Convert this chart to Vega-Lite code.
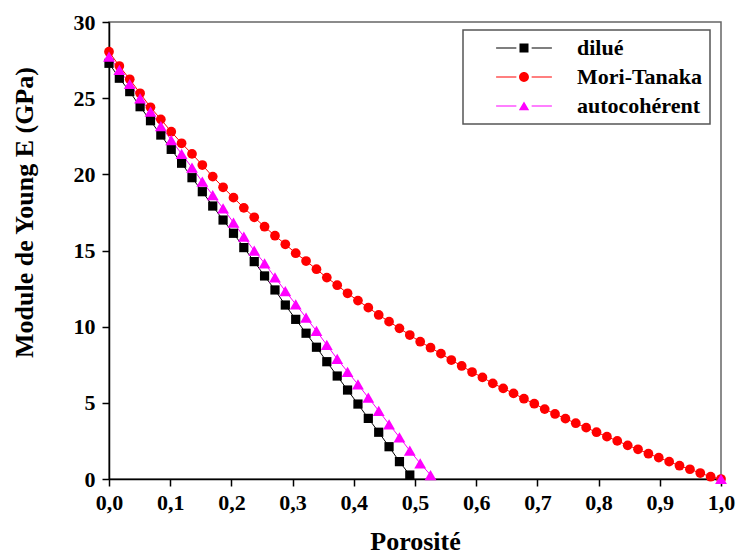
{
  "$schema": "https://vega.github.io/schema/vega-lite/v6.json",
  "width": 612,
  "height": 457,
  "autosize": {"type": "none"},
  "padding": {"left": 109, "top": 22, "right": 16, "bottom": 76},
  "background": "white",
  "data": {"values": [
    {"series":"dilué","p":0,"E":27.29},{"series":"dilué","p":0.0169,"E":26.31},{"series":"dilué","p":0.0339,"E":25.43},{"series":"dilué","p":0.0508,"E":24.44},{"series":"dilué","p":0.0678,"E":23.52},{"series":"dilué","p":0.0847,"E":22.58},{"series":"dilué","p":0.1017,"E":21.64},{"series":"dilué","p":0.1186,"E":20.73},{"series":"dilué","p":0.1356,"E":19.78},{"series":"dilué","p":0.1525,"E":18.86},{"series":"dilué","p":0.1695,"E":17.92},{"series":"dilué","p":0.1864,"E":17.0},{"series":"dilué","p":0.2034,"E":16.13},{"series":"dilué","p":0.2203,"E":15.19},{"series":"dilué","p":0.2373,"E":14.27},{"series":"dilué","p":0.2542,"E":13.33},{"series":"dilué","p":0.2712,"E":12.41},{"series":"dilué","p":0.2881,"E":11.42},{"series":"dilué","p":0.3051,"E":10.48},{"series":"dilué","p":0.322,"E":9.57},{"series":"dilué","p":0.339,"E":8.65},{"series":"dilué","p":0.3559,"E":7.7},{"series":"dilué","p":0.3729,"E":6.76},{"series":"dilué","p":0.3898,"E":5.84},{"series":"dilué","p":0.4068,"E":4.92},{"series":"dilué","p":0.4237,"E":3.98},{"series":"dilué","p":0.4407,"E":3.07},{"series":"dilué","p":0.4576,"E":2.12},{"series":"dilué","p":0.4746,"E":1.14},{"series":"dilué","p":0.4915,"E":0.26},
    {"series":"Mori-Tanaka","p":0,"E":28.05},{"series":"Mori-Tanaka","p":0.0169,"E":27.11},{"series":"Mori-Tanaka","p":0.0339,"E":26.24},{"series":"Mori-Tanaka","p":0.0508,"E":25.32},{"series":"Mori-Tanaka","p":0.0678,"E":24.4},{"series":"Mori-Tanaka","p":0.0847,"E":23.61},{"series":"Mori-Tanaka","p":0.1017,"E":22.8},{"series":"Mori-Tanaka","p":0.1186,"E":22.04},{"series":"Mori-Tanaka","p":0.1356,"E":21.34},{"series":"Mori-Tanaka","p":0.1525,"E":20.61},{"series":"Mori-Tanaka","p":0.1695,"E":19.85},{"series":"Mori-Tanaka","p":0.1864,"E":19.15},{"series":"Mori-Tanaka","p":0.2034,"E":18.47},{"series":"Mori-Tanaka","p":0.2203,"E":17.8},{"series":"Mori-Tanaka","p":0.2373,"E":17.18},{"series":"Mori-Tanaka","p":0.2542,"E":16.56},{"series":"Mori-Tanaka","p":0.2712,"E":15.97},{"series":"Mori-Tanaka","p":0.2881,"E":15.41},{"series":"Mori-Tanaka","p":0.3051,"E":14.82},{"series":"Mori-Tanaka","p":0.322,"E":14.31},{"series":"Mori-Tanaka","p":0.339,"E":13.77},{"series":"Mori-Tanaka","p":0.3559,"E":13.22},{"series":"Mori-Tanaka","p":0.3729,"E":12.72},{"series":"Mori-Tanaka","p":0.3898,"E":12.19},{"series":"Mori-Tanaka","p":0.4068,"E":11.71},{"series":"Mori-Tanaka","p":0.4237,"E":11.25},{"series":"Mori-Tanaka","p":0.4407,"E":10.77},{"series":"Mori-Tanaka","p":0.4576,"E":10.33},{"series":"Mori-Tanaka","p":0.4746,"E":9.89},{"series":"Mori-Tanaka","p":0.4915,"E":9.45},{"series":"Mori-Tanaka","p":0.5085,"E":9.01},{"series":"Mori-Tanaka","p":0.5254,"E":8.62},{"series":"Mori-Tanaka","p":0.5424,"E":8.23},{"series":"Mori-Tanaka","p":0.5593,"E":7.81},{"series":"Mori-Tanaka","p":0.5763,"E":7.42},{"series":"Mori-Tanaka","p":0.5932,"E":7.02},{"series":"Mori-Tanaka","p":0.6102,"E":6.67},{"series":"Mori-Tanaka","p":0.6271,"E":6.28},{"series":"Mori-Tanaka","p":0.6441,"E":5.95},{"series":"Mori-Tanaka","p":0.661,"E":5.62},{"series":"Mori-Tanaka","p":0.678,"E":5.27},{"series":"Mori-Tanaka","p":0.6949,"E":4.94},{"series":"Mori-Tanaka","p":0.7119,"E":4.59},{"series":"Mori-Tanaka","p":0.7288,"E":4.27},{"series":"Mori-Tanaka","p":0.7458,"E":3.96},{"series":"Mori-Tanaka","p":0.7627,"E":3.66},{"series":"Mori-Tanaka","p":0.7797,"E":3.37},{"series":"Mori-Tanaka","p":0.7966,"E":3.07},{"series":"Mori-Tanaka","p":0.8136,"E":2.78},{"series":"Mori-Tanaka","p":0.8305,"E":2.5},{"series":"Mori-Tanaka","p":0.8475,"E":2.21},{"series":"Mori-Tanaka","p":0.8644,"E":1.95},{"series":"Mori-Tanaka","p":0.8814,"E":1.66},{"series":"Mori-Tanaka","p":0.8983,"E":1.4},{"series":"Mori-Tanaka","p":0.9153,"E":1.14},{"series":"Mori-Tanaka","p":0.9322,"E":0.87},{"series":"Mori-Tanaka","p":0.9492,"E":0.64},{"series":"Mori-Tanaka","p":0.9661,"E":0.39},{"series":"Mori-Tanaka","p":0.9831,"E":0.15},{"series":"Mori-Tanaka","p":1,"E":0},
    {"series":"autocohérent","p":0,"E":27.72},{"series":"autocohérent","p":0.0169,"E":26.85},{"series":"autocohérent","p":0.0339,"E":25.93},{"series":"autocohérent","p":0.0508,"E":24.99},{"series":"autocohérent","p":0.0678,"E":24.11},{"series":"autocohérent","p":0.0847,"E":23.17},{"series":"autocohérent","p":0.1017,"E":22.25},{"series":"autocohérent","p":0.1186,"E":21.34},{"series":"autocohérent","p":0.1356,"E":20.44},{"series":"autocohérent","p":0.1525,"E":19.52},{"series":"autocohérent","p":0.1695,"E":18.64},{"series":"autocohérent","p":0.1864,"E":17.77},{"series":"autocohérent","p":0.2034,"E":16.83},{"series":"autocohérent","p":0.2203,"E":15.91},{"series":"autocohérent","p":0.2373,"E":14.99},{"series":"autocohérent","p":0.2542,"E":14.16},{"series":"autocohérent","p":0.2712,"E":13.24},{"series":"autocohérent","p":0.2881,"E":12.34},{"series":"autocohérent","p":0.3051,"E":11.47},{"series":"autocohérent","p":0.322,"E":10.59},{"series":"autocohérent","p":0.339,"E":9.72},{"series":"autocohérent","p":0.3559,"E":8.8},{"series":"autocohérent","p":0.3729,"E":7.88},{"series":"autocohérent","p":0.3898,"E":7.04},{"series":"autocohérent","p":0.4068,"E":6.21},{"series":"autocohérent","p":0.4237,"E":5.34},{"series":"autocohérent","p":0.4407,"E":4.48},{"series":"autocohérent","p":0.4576,"E":3.59},{"series":"autocohérent","p":0.4746,"E":2.74},{"series":"autocohérent","p":0.4915,"E":1.86},{"series":"autocohérent","p":0.5085,"E":1.03},{"series":"autocohérent","p":0.5254,"E":0.26},{"series":"autocohérent","p":1,"E":0}
  ]},
  "encoding": {
    "x": {"field": "p", "type": "quantitative",
      "scale": {"domain": [0, 1], "nice": false, "zero": false},
      "axis": {"title": "Porosité", "values": [0,0.1,0.2,0.3,0.4,0.5,0.6,0.7,0.8,0.9,1.0],
        "labelExpr": "replace(format(datum.value, '.1f'), '.', ',')",
        "labelFlush": false, "labelOverlap": false,
        "labelPadding": 6, "titleBaseline": "alphabetic", "titleY": 70}},
    "y": {"field": "E", "type": "quantitative",
      "scale": {"domain": [0, 30], "nice": false},
      "axis": {"title": "Module de Young E (GPa)", "values": [0,5,10,15,20,25,30],
        "labelFlush": false, "labelOverlap": false,
        "labelPadding": 7, "titleBaseline": "alphabetic", "titleAngle": -90,
        "titleX": -77, "titleY": 190, "titleAlign": "center"}}
  },
  "layer": [
    {
      "transform": [{"filter": "datum.series == 'dilué'"}],
      "mark": {"type": "line", "strokeWidth": 1, "color": "#000000"},
      "encoding": {}
    },
    {
      "transform": [{"filter": "datum.series == 'Mori-Tanaka'"}],
      "mark": {"type": "line", "strokeWidth": 1, "color": "#ff0000"},
      "encoding": {}
    },
    {
      "transform": [{"filter": "datum.series == 'autocohérent' && datum.p < 0.99"}],
      "mark": {"type": "line", "strokeWidth": 1, "color": "#ff00ff"},
      "encoding": {}
    },
    {
      "transform": [{"filter": "datum.series == 'dilué'"}],
      "mark": {"type": "point", "filled": true, "opacity": 1, "strokeWidth": 0, "size": 85, "shape": "square", "color": "#000000"},
      "encoding": {}
    },
    {
      "transform": [{"filter": "datum.series == 'Mori-Tanaka'"}],
      "mark": {"type": "point", "filled": true, "opacity": 1, "strokeWidth": 0, "size": 95, "shape": "circle", "color": "#ff0000"},
      "encoding": {}
    },
    {
      "transform": [{"filter": "datum.series == 'autocohérent'"}],
      "mark": {"type": "point", "filled": true, "opacity": 1, "strokeWidth": 0, "size": 140, "shape": "triangle-up", "color": "#ff00ff"},
      "encoding": {}
    },
    {
      "transform": [{"filter": "datum.p > 5"}],
      "mark": {"type": "point", "filled": true, "opacity": 1, "strokeWidth": 0, "size": 81},
      "encoding": {
        "color": {"field": "series", "type": "nominal",
          "scale": {"domain": ["dilué", "Mori-Tanaka", "autocohérent"], "range": ["#000000", "#ff0000", "#ff00ff"]},
          "legend": {"title": null, "orient": "none", "legendX": 354, "legendY": 8,
            "symbolSize": 81, "symbolOffset": 43, "labelOffset": 42,
            "padding": 7, "rowPadding": 7,
            "strokeColor": "#555555", "fillColor": "white"}},
        "shape": {"field": "series", "type": "nominal",
          "scale": {"domain": ["dilué", "Mori-Tanaka", "autocohérent"],
            "range": [
              "M-6.2,-0.12H-1.7V0.12H-6.2ZM-1,-1H1V1H-1ZM1.7,-0.12H6.2V0.12H1.7Z",
              "M-6.2,-0.12H-1.7V0.12H-6.2ZM-1.1,0A1.1,1.1,0,1,0,1.1,0A1.1,1.1,0,1,0,-1.1,0ZM1.7,-0.12H6.2V0.12H1.7Z",
              "M-6.2,-0.12H-1.7V0.12H-6.2ZM0,-1L1.15,0.95L-1.15,0.95ZM1.7,-0.12H6.2V0.12H1.7Z"
            ]}}
      }
    }
  ],
  "config": {
    "view": {"stroke": "#666666", "strokeWidth": 1.5},
    "axis": {
      "grid": false,
      "domainColor": "#000000", "domainWidth": 1.5,
      "tickColor": "#000000", "tickWidth": 1.5, "tickSize": 7,
      "labelFont": "Liberation Serif", "labelFontWeight": "bold", "labelFontSize": 22, "labelColor": "#000000",
      "titleFont": "Liberation Serif", "titleFontWeight": "bold", "titleFontSize": 26, "titleColor": "#000000"
    },
    "legend": {
      "labelFont": "Liberation Serif", "labelFontWeight": "bold", "labelFontSize": 22, "labelColor": "#000000",
      "strokeWidth": 1.5
    }
  }
}
